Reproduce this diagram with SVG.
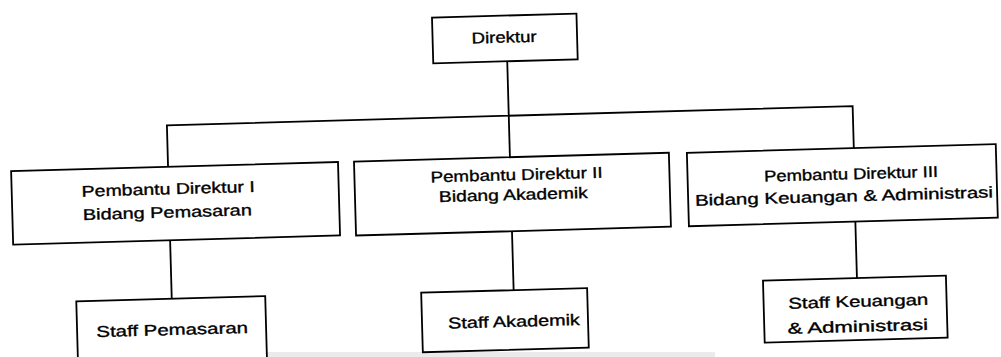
<svg xmlns="http://www.w3.org/2000/svg" width="1001" height="357" viewBox="0 0 1001 357">
  <style>
    .box { fill: #ffffff; stroke: #000000; stroke-width: 1.8; }
    .link { fill: none; stroke: #000000; stroke-width: 1.8; }
    .label { font-family: "Liberation Sans", Arial, sans-serif; font-size: 15.5px; fill: #000000; stroke: #000000; stroke-width: 0.35; }
  </style>
  <rect width="1001" height="357" fill="#ffffff"/>
  <!-- light page edge along the bottom -->
  <rect x="160" y="352" width="555" height="5" fill="#ebebeb"/>

  <!-- whole chart sits slightly tilted -->
  <g transform="rotate(-1.6 500 178)">
    <g id="connectors">
      <path class="link" d="M510.5 61.5 V157.5"/>
      <path class="link" d="M168.5 157.5 V116 H854.5 V158"/>
      <path class="link" d="M168.5 231 V289.5"/>
      <path class="link" d="M510.5 231.5 V290.5"/>
      <path class="link" d="M854 231.5 V288"/>
    </g>

    <g id="direktur">
      <rect class="box" x="436.5" y="15.8" width="144.5" height="45.7"/>
      <text class="label" x="475.5" y="42.8" textLength="65" lengthAdjust="spacingAndGlyphs">Direktur</text>
    </g>

    <g id="pembantu-direktur-1">
      <rect class="box" x="11.5" y="157.5" width="327" height="73.5"/>
      <text class="label" x="81.5" y="185" textLength="173" lengthAdjust="spacingAndGlyphs">Pembantu Direktur I</text>
      <text class="label" x="82" y="208.3" textLength="169" lengthAdjust="spacingAndGlyphs">Bidang Pemasaran</text>
    </g>

    <g id="pembantu-direktur-2">
      <rect class="box" x="354.5" y="157.5" width="315" height="74"/>
      <text class="label" x="430.6" y="180.5" textLength="172" lengthAdjust="spacingAndGlyphs">Pembantu Direktur II</text>
      <text class="label" x="438.4" y="200.4" textLength="149" lengthAdjust="spacingAndGlyphs">Bidang Akademik</text>
    </g>

    <g id="pembantu-direktur-3">
      <rect class="box" x="687.5" y="158" width="309" height="73.5"/>
      <text class="label" x="764" y="189" textLength="174" lengthAdjust="spacingAndGlyphs">Pembantu Direktur III</text>
      <text class="label" x="694.3" y="211.2" textLength="298" lengthAdjust="spacingAndGlyphs">Bidang Keuangan &amp; Administrasi</text>
    </g>

    <g id="staff-pemasaran">
      <rect class="box" x="73" y="289.5" width="189" height="80"/>
      <text class="label" x="92.3" y="325.8" textLength="151.6" lengthAdjust="spacingAndGlyphs">Staff Pemasaran</text>
    </g>

    <g id="staff-akademik">
      <rect class="box" x="418" y="290.5" width="166" height="59.5"/>
      <text class="label" x="444.2" y="327.1" textLength="131.7" lengthAdjust="spacingAndGlyphs">Staff Akademik</text>
    </g>

    <g id="staff-keuangan">
      <rect class="box" x="760" y="288" width="183" height="62"/>
      <text class="label" x="784.7" y="316.7" textLength="140" lengthAdjust="spacingAndGlyphs">Staff Keuangan</text>
      <text class="label" x="783.3" y="341.7" textLength="140.6" lengthAdjust="spacingAndGlyphs">&amp; Administrasi</text>
    </g>
  </g>
</svg>
